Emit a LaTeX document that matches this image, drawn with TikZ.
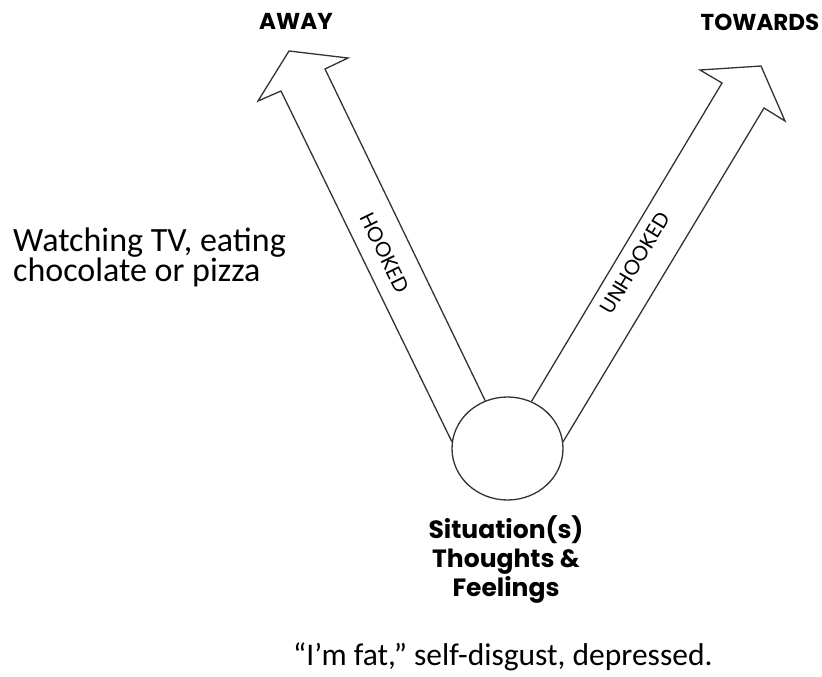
\documentclass[tikz,border=0pt]{standalone}
\usepackage{fontspec}
\usetikzlibrary{shapes.geometric}
\setmainfont{Poppins}
\newfontfamily\handfont{Carlito}
\begin{document}
\begin{tikzpicture}[x=1pt,y=-1pt,
    heading/.style={font=\bfseries\fontsize{23}{26}\selectfont, inner sep=0pt, anchor=base},
    tag/.style={font=\fontsize{21}{24}\selectfont, inner sep=0pt},
    hand/.style={font=\handfont\fontsize{34}{30}\selectfont, inner sep=0pt},
    outline/.style={line width=1.3pt, draw=black!80, line join=miter}]
    \useasboundingbox (0,0) rectangle (822,677);
    % the situation in the middle
    \node[outline, ellipse, minimum width=111pt, minimum height=103pt, inner sep=0pt] (sit) at (507.5,448.5) {};
    % away and towards arrows
    \draw[outline] (sit.173) -- (281,91) -- (258,101) -- (289,51) -- (348,58) -- (325,69) -- (sit.115);
    \draw[outline] (sit.63) -- (722,83) -- (700,70) -- (761,66) -- (785,121) -- (764,108) -- (sit.7);
    \node[heading] (away) at (296,30) {AWAY};
    \node[heading] (towards) at (760,31) {TOWARDS};
    \node[tag, rotate=-64] (hooked) at (385,253) {HOOKED};
    \node[tag, rotate=59] (unhooked) at (635,263) {UNHOOKED};
    \node[font=\bfseries\fontsize{25}{29}\selectfont, align=center, inner sep=0pt] (situation) at (506,560) {Situation(s)\\Thoughts \&\\Feelings};
    % handwritten notes
    \node[hand, align=left, anchor=west] (awaynote) at (13,257) {Watching TV, eating\\chocolate or pizza};
    \node[hand, anchor=base west, font=\handfont\fontsize{31.5}{32}\selectfont] (feelnote) at (293,665) {“I’m fat,” self-disgust, depressed.};
\end{tikzpicture}
\end{document}
